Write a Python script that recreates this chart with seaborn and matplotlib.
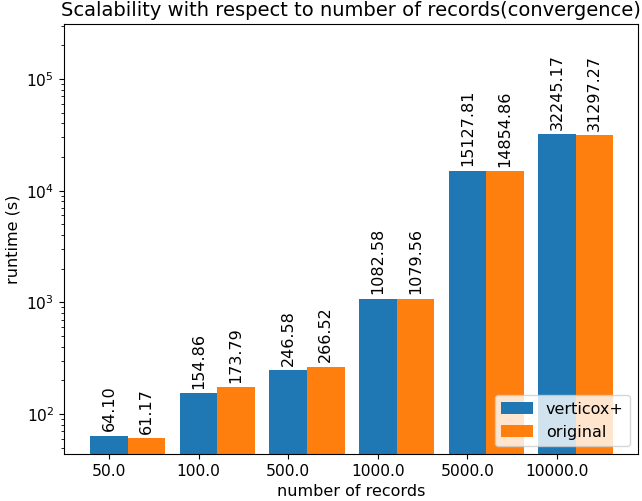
import numpy as np
import pandas as pd
import seaborn as sns
import matplotlib.pyplot as plt

records = ['50.0', '100.0', '500.0', '1000.0', '5000.0', '10000.0']
verticox = [64.10, 154.86, 246.58, 1082.58, 15127.81, 32245.17]
original = [61.17, 173.79, 266.52, 1079.56, 14854.86, 31297.27]

df = pd.DataFrame({
    'records': records * 2,
    'runtime': verticox + original,
    'method': ['verticox+'] * len(records) + ['original'] * len(records),
})

plt.rcParams['font.family'] = ['DejaVu Sans']
fig, ax = plt.subplots(figsize=(6.42, 5.01), dpi=100)
fig.subplots_adjust(left=0.0997, right=0.9938, top=0.952, bottom=0.094)

sns.barplot(data=df, x='records', y='runtime', hue='method', order=records,
            palette=['#1f77b4', '#ff7f0e'], width=0.84, gap=0, ax=ax,
            saturation=1, errorbar=None)
ax.set_yscale('log')
ax.set_ylim(44, 3.1e5)

# ticks sit under the first bar of each group
ax.set_xticks(np.arange(len(records)) - 0.21, records)
ax.set_xlim(-0.712, 5.694)

for cont in ax.containers:
    ax.bar_label(cont, labels=['%.2f' % v for v in cont.datavalues],
                 rotation=90, padding=3, fontsize=11.5)

ax.tick_params(labelsize=11.2)
ax.set_title('Scalability with respect to number of records(convergence)', fontsize=14)
ax.set_xlabel('number of records', fontsize=11.5)
ax.set_ylabel('runtime (s)', fontsize=11.5)
ax.legend(loc='lower right', fontsize=11.5)

plt.savefig('out.png', dpi=100)
